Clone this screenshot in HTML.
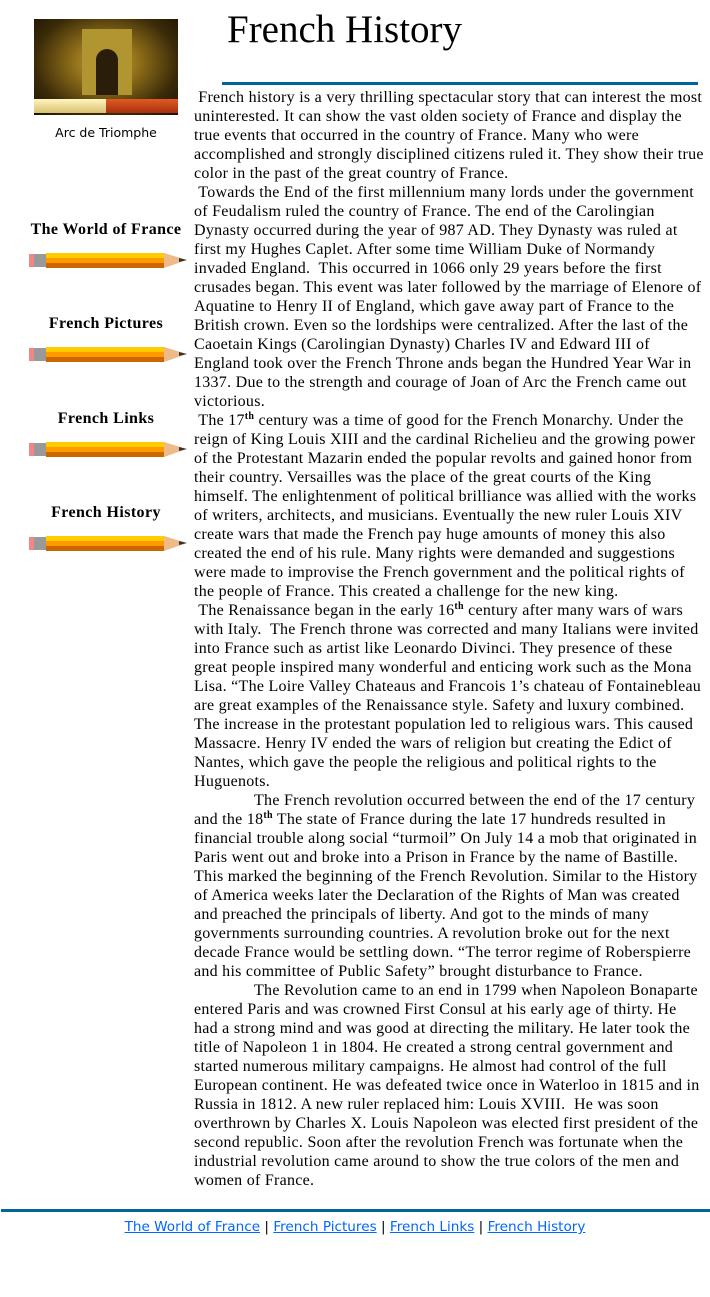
<!DOCTYPE html>
<html><head><meta charset="utf-8">
<style>
body{margin:0;width:710px;height:1297px;position:relative;background:#fff;font-family:"Liberation Serif",serif;color:#000;overflow:hidden}
.abs{position:absolute}
.t{position:absolute;left:194px;top:88px;font-size:16px;line-height:19px;letter-spacing:0.27px}
.t div{white-space:nowrap;height:19px}
.in{padding-left:60px}
sup{font-size:10px;line-height:0;vertical-align:6px;font-weight:bold}
.nav{position:absolute;left:20px;width:172px;text-align:center;font-weight:bold;font-size:16px;letter-spacing:0.4px;white-space:nowrap}
.pencil{position:absolute;left:29px;width:158px;height:18px}
.foot{position:absolute;top:1219px;left:0;width:710px;text-align:center;font-family:"DejaVu Sans",sans-serif;font-size:13.6px;color:#000}
.foot a{color:#0066ff;text-decoration:underline}
</style></head><body>
<div class="abs" style="left:34px;top:19px;width:144px;height:96px;background:radial-gradient(ellipse at 50% 45%,#c9a836 0%,#8a6a18 35%,#3a2a08 70%,#1a1206 100%)">
  <div class="abs" style="left:48px;top:10px;width:50px;height:66px;background:#b09530"></div>
  <div class="abs" style="left:62px;top:30px;width:22px;height:46px;background:#2a1e0a;border-radius:11px 11px 0 0"></div>
  <div class="abs" style="left:0;top:80px;width:72px;height:14px;background:linear-gradient(#fff6c0,#d8c070)"></div>
  <div class="abs" style="left:72px;top:80px;width:72px;height:14px;background:linear-gradient(#e05a20,#a83010)"></div>
</div>
<div class="abs" style="left:20px;top:125px;width:172px;text-align:center;font-family:'DejaVu Sans',sans-serif;font-size:12.5px">Arc de Triomphe</div>

<div class="nav" style="top:221px">The World of France</div>
<div class="nav" style="top:315px">French Pictures</div>
<div class="nav" style="top:410px">French Links</div>
<div class="nav" style="top:504px">French History</div>

<svg class="pencil" style="top:251px" viewBox="0 0 158 18"><rect x="0" y="3" width="6" height="13" fill="#e88"/><rect x="5" y="3" width="12" height="13" fill="#999"/><rect x="17" y="2" width="118" height="5" fill="#ffcc00"/><rect x="17" y="7" width="118" height="5" fill="#ff9900"/><rect x="17" y="12" width="118" height="5" fill="#cc6600"/><polygon points="135,2 158,9 135,17" fill="#eebb88"/><polygon points="150,7 158,9 150,11" fill="#333"/></svg>
<svg class="pencil" style="top:345px" viewBox="0 0 158 18"><rect x="0" y="3" width="6" height="13" fill="#e88"/><rect x="5" y="3" width="12" height="13" fill="#999"/><rect x="17" y="2" width="118" height="5" fill="#ffcc00"/><rect x="17" y="7" width="118" height="5" fill="#ff9900"/><rect x="17" y="12" width="118" height="5" fill="#cc6600"/><polygon points="135,2 158,9 135,17" fill="#eebb88"/><polygon points="150,7 158,9 150,11" fill="#333"/></svg>
<svg class="pencil" style="top:440px" viewBox="0 0 158 18"><rect x="0" y="3" width="6" height="13" fill="#e88"/><rect x="5" y="3" width="12" height="13" fill="#999"/><rect x="17" y="2" width="118" height="5" fill="#ffcc00"/><rect x="17" y="7" width="118" height="5" fill="#ff9900"/><rect x="17" y="12" width="118" height="5" fill="#cc6600"/><polygon points="135,2 158,9 135,17" fill="#eebb88"/><polygon points="150,7 158,9 150,11" fill="#333"/></svg>
<svg class="pencil" style="top:534px" viewBox="0 0 158 18"><rect x="0" y="3" width="6" height="13" fill="#e88"/><rect x="5" y="3" width="12" height="13" fill="#999"/><rect x="17" y="2" width="118" height="5" fill="#ffcc00"/><rect x="17" y="7" width="118" height="5" fill="#ff9900"/><rect x="17" y="12" width="118" height="5" fill="#cc6600"/><polygon points="135,2 158,9 135,17" fill="#eebb88"/><polygon points="150,7 158,9 150,11" fill="#333"/></svg>

<div class="abs" style="left:227px;top:8px;font-size:39px;line-height:44px;white-space:nowrap">French History</div>
<div class="abs" style="left:222px;top:82px;width:476px;height:3px;background:#006699"></div>

<div class="t">
<div>&nbsp;French history is a very thrilling spectacular story that can interest the most</div>
<div>uninterested. It can show the vast olden society of France and display the</div>
<div>true events that occurred in the country of France. Many who were</div>
<div>accomplished and strongly disciplined citizens ruled it. They show their true</div>
<div>color in the past of the great country of France.</div>
<div>&nbsp;Towards the End of the first millennium many lords under the government</div>
<div>of Feudalism ruled the country of France. The end of the Carolingian</div>
<div>Dynasty occurred during the year of 987 AD. They Dynasty was ruled at</div>
<div>first my Hughes Caplet. After some time William Duke of Normandy</div>
<div>invaded England.&nbsp; This occurred in 1066 only 29 years before the first</div>
<div>crusades began. This event was later followed by the marriage of Elenore of</div>
<div>Aquatine to Henry II of England, which gave away part of France to the</div>
<div>British crown. Even so the lordships were centralized. After the last of the</div>
<div>Caoetain Kings (Carolingian Dynasty) Charles IV and Edward III of</div>
<div>England took over the French Throne ands began the Hundred Year War in</div>
<div>1337. Due to the strength and courage of Joan of Arc the French came out</div>
<div>victorious.</div>
<div>&nbsp;The 17<sup>th</sup> century was a time of good for the French Monarchy. Under the</div>
<div>reign of King Louis XIII and the cardinal Richelieu and the growing power</div>
<div>of the Protestant Mazarin ended the popular revolts and gained honor from</div>
<div>their country. Versailles was the place of the great courts of the King</div>
<div>himself. The enlightenment of political brilliance was allied with the works</div>
<div>of writers, architects, and musicians. Eventually the new ruler Louis XIV</div>
<div>create wars that made the French pay huge amounts of money this also</div>
<div>created the end of his rule. Many rights were demanded and suggestions</div>
<div>were made to improvise the French government and the political rights of</div>
<div>the people of France. This created a challenge for the new king.</div>
<div>&nbsp;The Renaissance began in the early 16<sup>th</sup> century after many wars of wars</div>
<div>with Italy.&nbsp; The French throne was corrected and many Italians were invited</div>
<div>into France such as artist like Leonardo Divinci. They presence of these</div>
<div>great people inspired many wonderful and enticing work such as the Mona</div>
<div>Lisa. “The Loire Valley Chateaus and Francois 1’s chateau of Fontainebleau</div>
<div>are great examples of the Renaissance style. Safety and luxury combined.</div>
<div>The increase in the protestant population led to religious wars. This caused</div>
<div>Massacre. Henry IV ended the wars of religion but creating the Edict of</div>
<div>Nantes, which gave the people the religious and political rights to the</div>
<div>Huguenots.</div>
<div class="in">The French revolution occurred between the end of the 17 century</div>
<div>and the 18<sup>th</sup> The state of France during the late 17 hundreds resulted in</div>
<div>financial trouble along social “turmoil” On July 14 a mob that originated in</div>
<div>Paris went out and broke into a Prison in France by the name of Bastille.</div>
<div>This marked the beginning of the French Revolution. Similar to the History</div>
<div>of America weeks later the Declaration of the Rights of Man was created</div>
<div>and preached the principals of liberty. And got to the minds of many</div>
<div>governments surrounding countries. A revolution broke out for the next</div>
<div>decade France would be settling down. “The terror regime of Roberspierre</div>
<div>and his committee of Public Safety” brought disturbance to France.</div>
<div class="in">The Revolution came to an end in 1799 when Napoleon Bonaparte</div>
<div>entered Paris and was crowned First Consul at his early age of thirty. He</div>
<div>had a strong mind and was good at directing the military. He later took the</div>
<div>title of Napoleon 1 in 1804. He created a strong central government and</div>
<div>started numerous military campaigns. He almost had control of the full</div>
<div>European continent. He was defeated twice once in Waterloo in 1815 and in</div>
<div>Russia in 1812. A new ruler replaced him: Louis XVIII.&nbsp; He was soon</div>
<div>overthrown by Charles X. Louis Napoleon was elected first president of the</div>
<div>second republic. Soon after the revolution French was fortunate when the</div>
<div>industrial revolution came around to show the true colors of the men and</div>
<div>women of France.</div>
</div>

<div class="abs" style="left:1px;top:1209px;width:709px;height:3px;background:#006699"></div>
<div class="foot"><a>The World of France</a> | <a>French Pictures</a> | <a>French Links</a> | <a>French History</a></div>
</body></html>
